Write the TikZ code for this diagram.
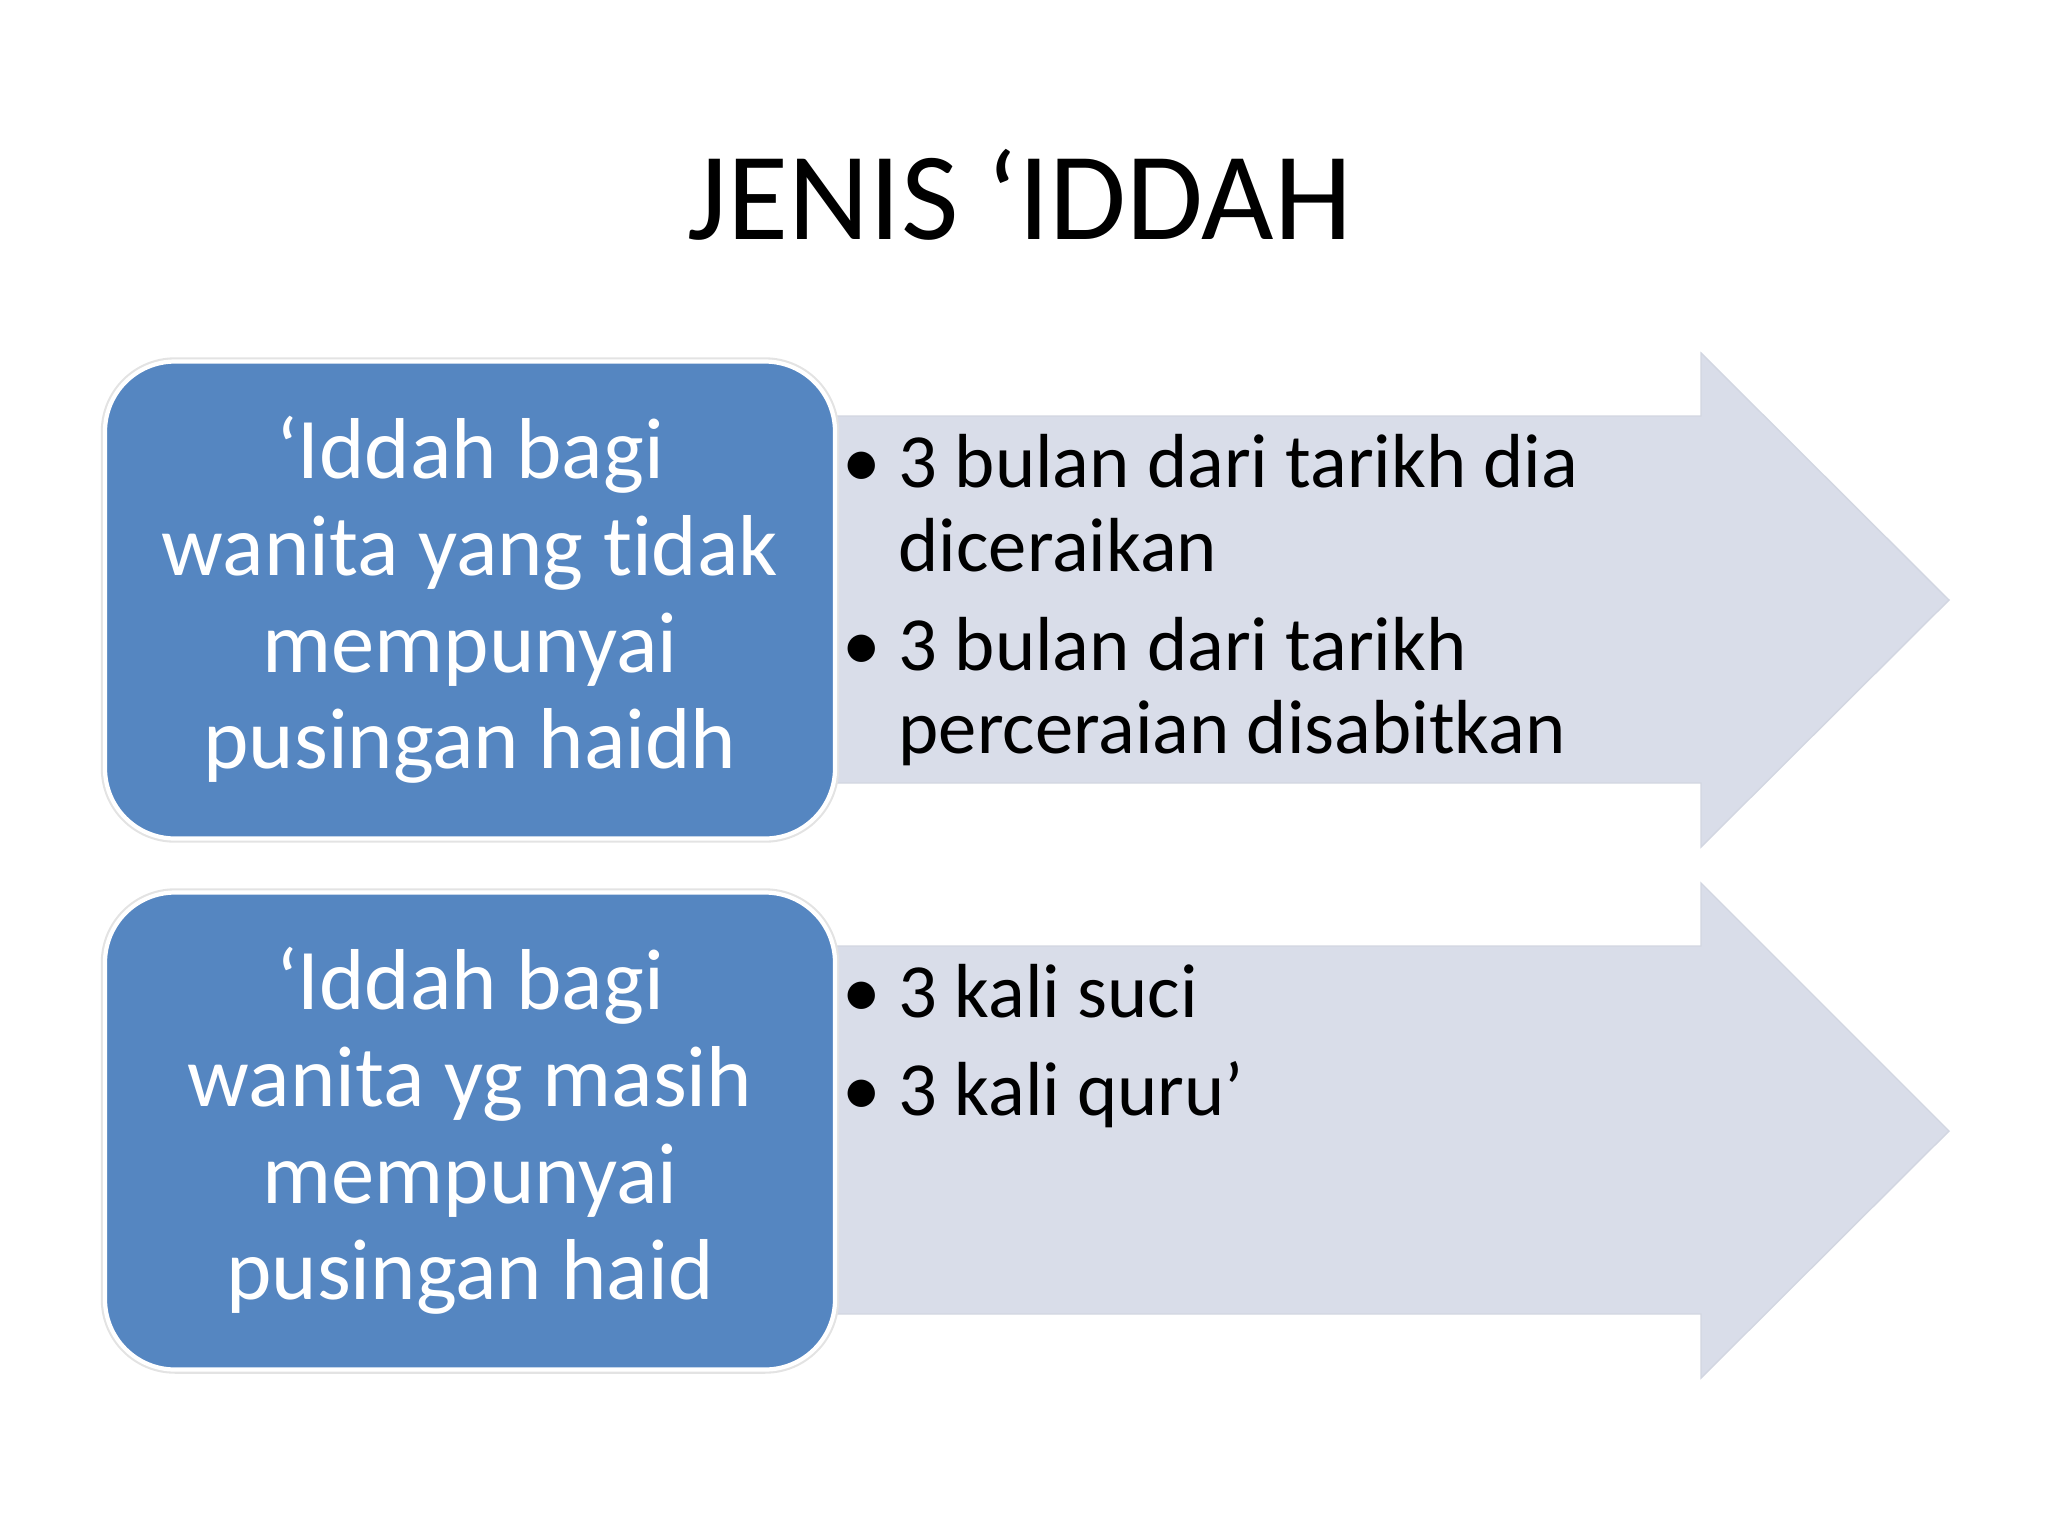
\documentclass[tikz,border=0pt]{standalone}
\usepackage{fontspec}
\setmainfont{Carlito}[Ligatures={NoCommon}]
\definecolor{biru}{RGB}{85,134,193}
\definecolor{kelabu}{RGB}{217,221,233}

\begin{document}
\begin{tikzpicture}[x=0.1mm,y=-0.1mm]
\tikzstyle{panah}=[fill=kelabu,draw=kelabu!92!gray,line width=0.4pt]
\tikzset{kotak/.style={fill=biru,draw=white,line width=1.2pt,
preaction={draw=gray!22,line width=2.4pt},
rounded corners=7mm,minimum width=73mm,minimum height=47.7mm,
text=white,align=center,font=\fontsize{24.6}{27.5}\selectfont},
titik/.style={anchor=base,inner sep=0pt,font=\fontsize{22}{24}\selectfont},
baris/.style={anchor=base west,inner sep=0pt,font=\fontsize{21.8}{24}\selectfont}}
\useasboundingbox (0,0) rectangle (2048,1536);

\node[anchor=base,font=\fontsize{35.6}{42}\selectfont] (tajuk) at (1020,239) {JENIS ‘IDDAH};

% baris pertama
\draw[panah] (830,416) -- (1701,416) -- (1701,353) -- (1949,600) -- (1701,847) -- (1701,783) -- (830,783) -- cycle;
\node[kotak] (kotak1) at (470,600) {‘Iddah bagi\\wanita yang tidak\\mempunyai\\pusingan haidh};
\node[titik] (t1) at (862,487) {•};
\node[baris] (b1) at (898,487) {3 bulan dari tarikh dia};
\node[baris] (b2) at (898,571) {diceraikan};
\node[titik] (t2) at (862,670) {•};
\node[baris] (b3) at (898,670) {3 bulan dari tarikh};
\node[baris] (b4) at (898,753) {perceraian disabitkan};

% baris kedua
\draw[panah] (830,946) -- (1701,946) -- (1701,883) -- (1949,1131) -- (1701,1378) -- (1701,1314) -- (830,1314) -- cycle;
\node[kotak] (kotak2) at (470,1131) {‘Iddah bagi\\wanita yg masih\\mempunyai\\pusingan haid};
\node[titik] (t3) at (862,1017) {•};
\node[baris] (b5) at (898,1017) {3 kali suci};
\node[titik] (t4) at (862,1115) {•};
\node[baris] (b6) at (898,1115) {3 kali quru’};

\end{tikzpicture}
\end{document}
